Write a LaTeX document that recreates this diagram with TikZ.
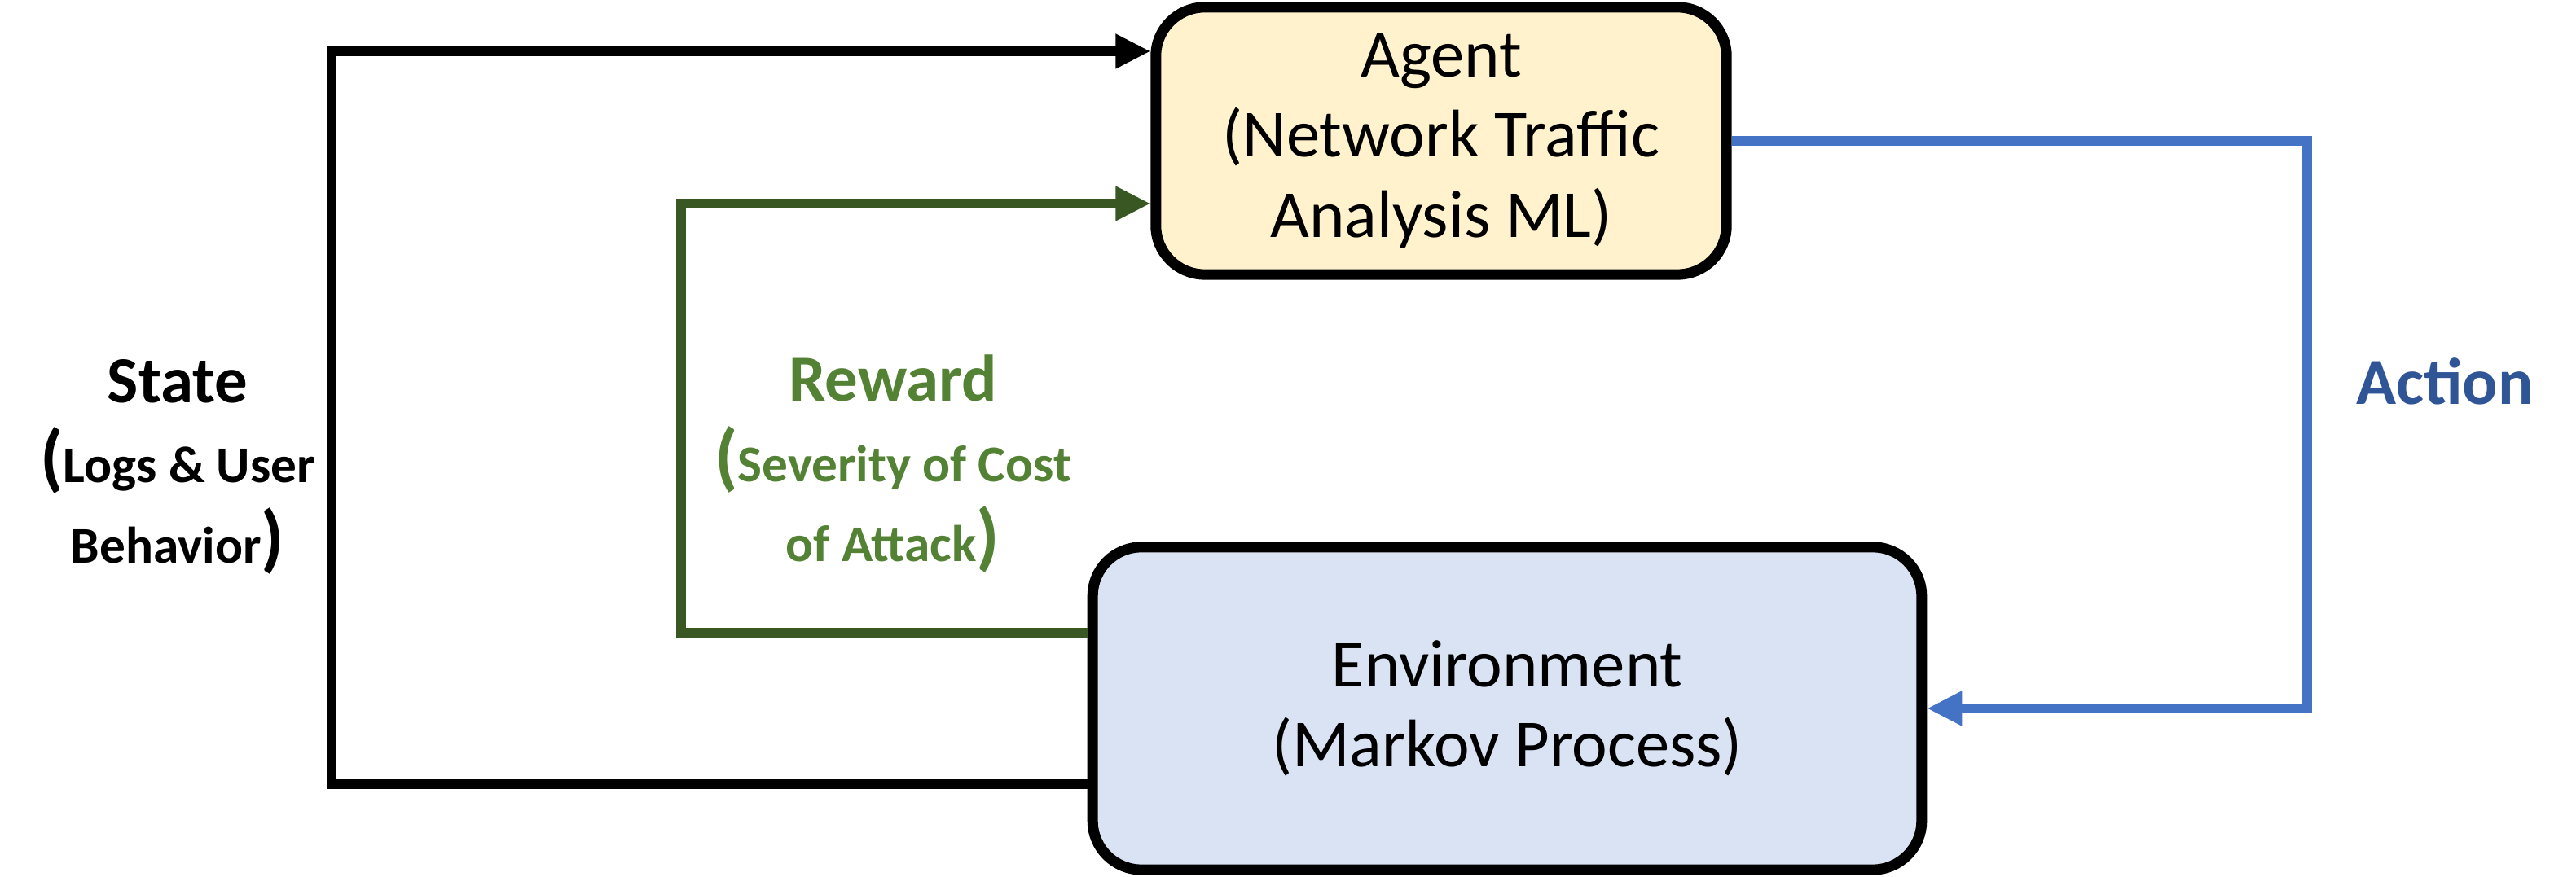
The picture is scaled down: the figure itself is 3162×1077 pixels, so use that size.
\documentclass[tikz,border=0pt]{standalone}
\usepackage{fontspec}
\setmainfont{Carlito}
\usetikzlibrary{positioning,arrows.meta,calc}
\definecolor{sand}{HTML}{FFF2CC}
\definecolor{mist}{HTML}{DAE3F3}
\definecolor{moss}{HTML}{385723}
\definecolor{fern}{HTML}{548235}
\definecolor{sky}{HTML}{4472C4}
\definecolor{navy}{HTML}{2F5597}
\newcommand{\bigparen}[1]{{\fontsize{26}{28}\selectfont #1}}
\tikzset{
  box/.style={rounded corners=0.6cm,draw=black,line width=3.7pt,align=center,
              font=\fontsize{23.5}{28}\selectfont},
  agentbox/.style={box,fill=sand,minimum width=7cm,minimum height=3.28cm},
  envbox/.style={box,fill=mist,minimum width=10.17cm,minimum height=3.96cm},
  flow/.style={-{Triangle[length=4.3mm,width=4mm]},line width=3.4pt},
  lbl/.style={align=center,font=\fontsize{18}{28}\selectfont\bfseries}
}

\begin{document}
\begin{tikzpicture}[x=0.01cm,y=-0.01cm]
    \useasboundingbox (0,0) rectangle (3162,1077);

    \node[agentbox] (agent) at (1769,173) {Agent\\(Network Traffic\\Analysis ML)};
    \node[envbox] (env) at (1850,870) {Environment\\(Markov Process)};

    % state loop
    \draw[flow,draw=black] ($(env.west)+(0,93)$) -| (407,63) -- ($(agent.west)+(0,-110)$);
    % reward loop
    \draw[flow,draw=moss] ($(env.west)+(0,-93)$) -| (836,250) -- ($(agent.west)+(0,77)$);
    % action
    \draw[flow,draw=sky] (agent.east) -| ($(env.east)+(467,0)$) -- (env.east);

    \node[lbl] (state) at (218,573) {{\fontsize{23}{28}\selectfont State}\\\bigparen{(}Logs \& User\\Behavior\bigparen{)}};
    \node[lbl,text=fern] (reward) at (1096,570) {{\fontsize{23}{28}\selectfont Reward}\\\bigparen{(}Severity of Cost\\of Attack\bigparen{)}};
    \node[lbl,text=navy,font=\fontsize{23}{28}\selectfont\bfseries] (action) at (3001,468) {Action};
  \end{tikzpicture}
\end{document}
